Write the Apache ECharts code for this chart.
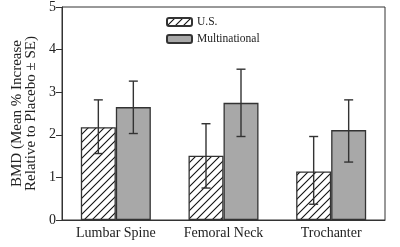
<!DOCTYPE html>
<html><head><meta charset="utf-8">
<script src="https://cdn.jsdelivr.net/npm/echarts@6/dist/echarts.min.js"></script>
<style>html,body{margin:0;padding:0;background:#fff}#c{width:400px;height:247px}</style>
</head><body><div id="c"></div>
<script>
const categories = ['Lumbar Spine', 'Femoral Neck', 'Trochanter'];
const usMean = [2.18, 1.51, 1.14];
const usLow = [1.56, 0.75, 0.37];
const usHigh = [2.82, 2.26, 1.96];
const multiMean = [2.65, 2.75, 2.11];
const multiLow = [2.03, 1.96, 1.36];
const multiHigh = [3.26, 3.54, 2.82];
const yTicks = [0, 1, 2, 3, 4, 5];

function hatch() {
  const c = document.createElement('canvas');
  c.width = 8; c.height = 8;
  const g = c.getContext('2d');
  g.fillStyle = '#fff'; g.fillRect(0, 0, 8, 8);
  g.strokeStyle = '#111'; g.lineWidth = 1.1;
  g.beginPath();
  g.moveTo(-1, 9); g.lineTo(9, -1);
  g.moveTo(-1, 1); g.lineTo(1, -1);
  g.moveTo(7, 9); g.lineTo(9, 7);
  g.stroke();
  return c;
}
const hatchFill = { image: hatch(), repeat: 'repeat' };
const BW = 35;
const font = 'Liberation Serif';

function errItem(offset) {
  return function (params, api) {
    const x = api.coord([api.value(0), 0])[0] + offset;
    const lo = api.coord([api.value(0), api.value(1)])[1];
    const hi = api.coord([api.value(0), api.value(2)])[1];
    const s = { stroke: '#333', lineWidth: 1.4 };
    const cap = 4.5;
    return { type: 'group', children: [
      { type: 'line', shape: { x1: x, y1: lo, x2: x, y2: hi }, style: s },
      { type: 'line', shape: { x1: x - cap, y1: lo, x2: x + cap, y2: lo }, style: s },
      { type: 'line', shape: { x1: x - cap, y1: hi, x2: x + cap, y2: hi }, style: s }
    ]};
  };
}

const chart = echarts.init(document.getElementById('c'));
chart.setOption({
  animation: false,
  backgroundColor: '#fff',
  grid: { left: 62, right: 15, top: 7, bottom: 27, show: true, borderColor: '#333', borderWidth: 1, backgroundColor: 'transparent' },
  legend: {
    orient: 'vertical', left: 161, top: 11, itemWidth: 25, itemHeight: 8, itemGap: 5,
    textStyle: { fontFamily: font, fontSize: 11.5, color: '#222' },
    data: ['U.S.', 'Multinational']
  },
  xAxis: {
    type: 'category', data: categories,
    axisLine: { lineStyle: { color: '#333', width: 1 } },
    axisTick: { show: false },
    axisLabel: { fontFamily: font, fontSize: 14, color: '#222', margin: 6 }
  },
  yAxis: {
    type: 'value', min: 0, max: 5, interval: 1,
    name: 'BMD (Mean % Increase\nRelative to Placebo ± SE)',
    nameLocation: 'middle', nameRotate: 90, nameGap: 23,
    nameTextStyle: { fontFamily: font, fontSize: 15, color: '#222', lineHeight: 14, verticalAlign: 'bottom' },
    axisLine: { show: true, lineStyle: { color: '#333', width: 1 } },
    axisTick: { show: true, length: 6, lineStyle: { color: '#333' } },
    splitLine: { show: false },
    axisLabel: { fontFamily: font, fontSize: 14, color: '#222', margin: 6,
      formatter: v => yTicks.includes(v) ? String(v) : '' }
  },
  series: [
    { name: 'U.S.', type: 'bar', data: usMean, barWidth: BW, barGap: '0%',
      itemStyle: { color: hatchFill, borderColor: '#333', borderWidth: 1.3 } },
    { name: 'Multinational', type: 'bar', data: multiMean, barWidth: BW, barGap: '0%',
      itemStyle: { color: '#a8a8a8', borderColor: '#333', borderWidth: 1.3 } },
    { type: 'custom', renderItem: errItem(-BW / 2), z: 10,
      data: categories.map((c, i) => [i, usLow[i], usHigh[i]]), encode: { x: 0, y: [1, 2] } },
    { type: 'custom', renderItem: errItem(BW / 2), z: 10,
      data: categories.map((c, i) => [i, multiLow[i], multiHigh[i]]), encode: { x: 0, y: [1, 2] } }
  ]
});
</script></body></html>
